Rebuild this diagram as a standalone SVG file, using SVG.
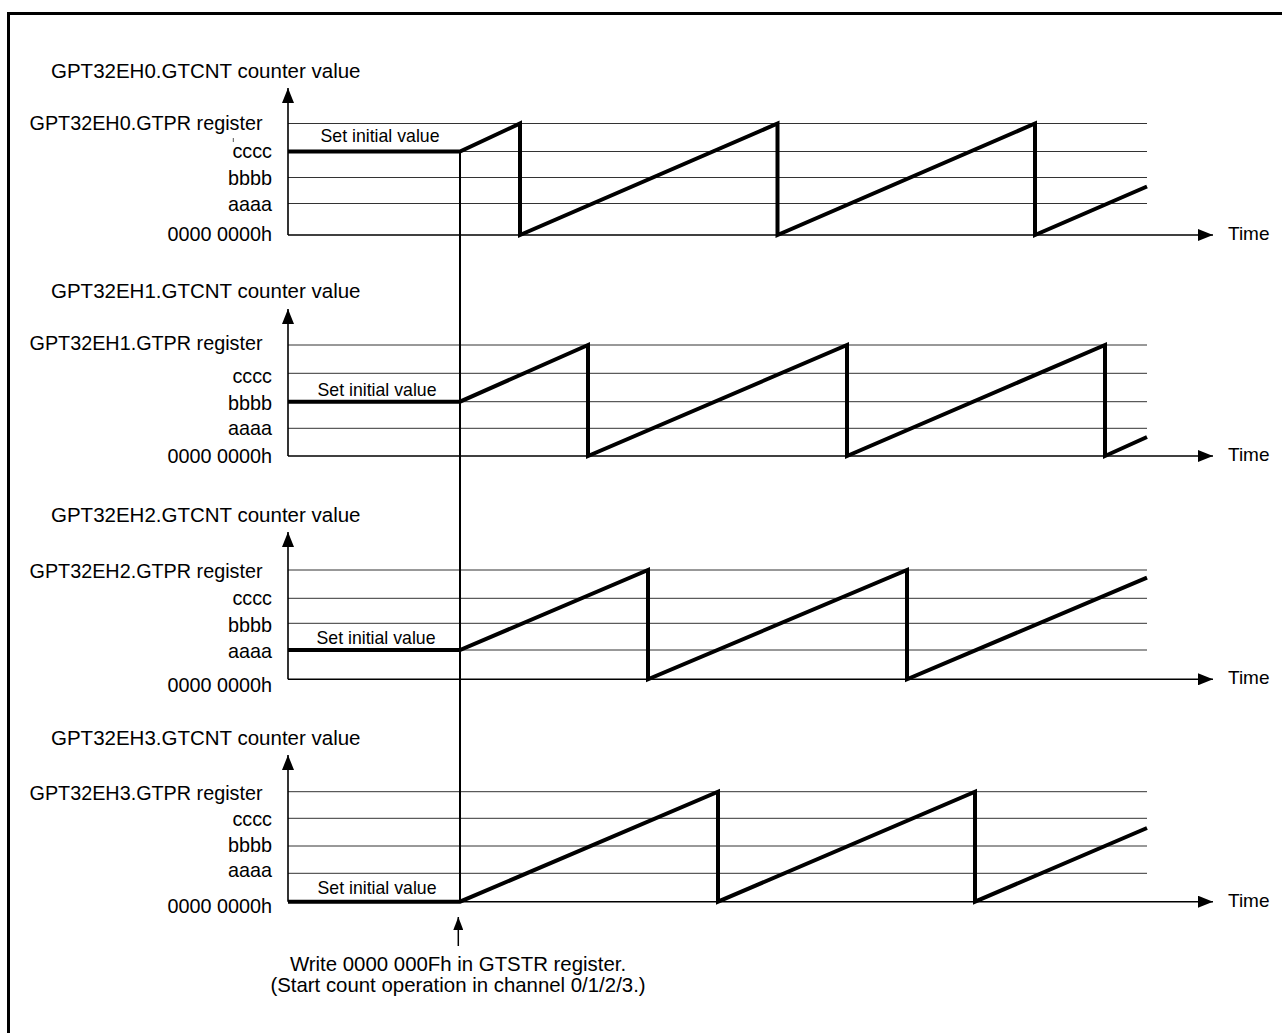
<svg xmlns="http://www.w3.org/2000/svg" width="1282" height="1033" viewBox="0 0 1282 1033">
<style>
text{font-family:"Liberation Sans",Arial,sans-serif;fill:#000}
.title{font-size:20.5px}
.lbl{font-size:19.8px}
.val{font-size:19.8px;text-anchor:end}
.time{font-size:19px}
.siv{font-size:17.7px;text-anchor:middle}
.note{font-size:20.4px;text-anchor:middle}
.grid{stroke:#333;stroke-width:1;fill:none}
.axis{stroke:#000;stroke-width:1.6;fill:none}
.wave{stroke:#000;stroke-width:4;fill:none;stroke-linejoin:miter}
.start{stroke:#000;stroke-width:2;fill:none}
</style>
<defs>
<marker id="ahUp" markerUnits="userSpaceOnUse" viewBox="0 0 15 12" refX="15" refY="6" markerWidth="15" markerHeight="12" orient="auto">
<path d="M0,0 L15,6 L0,12 Z" fill="#000"/>
</marker>
<marker id="ahSmall" markerUnits="userSpaceOnUse" viewBox="0 0 13 10" refX="13" refY="5" markerWidth="13" markerHeight="10" orient="auto">
<path d="M0,0 L13,5 L0,10 Z" fill="#000"/>
</marker>
</defs>
<rect x="0" y="0" width="1282" height="1033" fill="#fff"/>
<path d="M8.5,1033 L8.5,13.5 L1282,13.5" stroke="#000" stroke-width="3" fill="none"/>

<g id="panel0">
<text class="title" x="51" y="77.5">GPT32EH0.GTCNT counter value</text>
<text class="lbl" x="29.5" y="130">GPT32EH0.GTPR register</text>
<text class="val" x="272" y="158.3">cccc</text>
<text class="val" x="272" y="185">bbbb</text>
<text class="val" x="272" y="210.7">aaaa</text>
<text class="val" x="272" y="240.7">0000 0000h</text>
<line x1="233.3" y1="138" x2="233.3" y2="142" stroke="#555" stroke-width="1"/>
<path class="grid" d="M288,123.5H1147M288,151.5H1147M288,177.5H1147M288,203.5H1147"/>
<line class="axis" x1="288" y1="235" x2="288" y2="88" marker-end="url(#ahUp)"/>
<line class="axis" x1="288" y1="235" x2="1213" y2="235" marker-end="url(#ahUp)"/>
<text class="time" x="1228" y="240">Time</text>
<text class="siv" x="380" y="141.5">Set initial value</text>
<polyline class="wave" points="288,151.5 460,151.5 520,123.5 520,235 777.5,123.5 777.5,235 1035,123.5 1035,235 1147,186.5"/>
</g>

<g id="panel1">
<text class="title" x="51" y="298.3">GPT32EH1.GTCNT counter value</text>
<text class="lbl" x="29.5" y="350">GPT32EH1.GTPR register</text>
<text class="val" x="272" y="383.3">cccc</text>
<text class="val" x="272" y="410">bbbb</text>
<text class="val" x="272" y="435">aaaa</text>
<text class="val" x="272" y="463.3">0000 0000h</text>
<path class="grid" d="M288,345H1147M288,373.3H1147M288,401.7H1147M288,428.3H1147"/>
<line class="axis" x1="288" y1="456" x2="288" y2="309" marker-end="url(#ahUp)"/>
<line class="axis" x1="288" y1="456" x2="1213" y2="456" marker-end="url(#ahUp)"/>
<text class="time" x="1228" y="461">Time</text>
<text class="siv" x="377" y="396">Set initial value</text>
<polyline class="wave" points="288,401.7 460,401.7 588,345 588,456 847,345 847,456 1105,345 1105,456 1147,437"/>
</g>

<g id="panel2">
<text class="title" x="51" y="521.5">GPT32EH2.GTCNT counter value</text>
<text class="lbl" x="29.5" y="578">GPT32EH2.GTPR register</text>
<text class="val" x="272" y="605">cccc</text>
<text class="val" x="272" y="631.7">bbbb</text>
<text class="val" x="272" y="658.3">aaaa</text>
<text class="val" x="272" y="691.7">0000 0000h</text>
<path class="grid" d="M288,570H1147M288,598.3H1147M288,623.3H1147M288,650H1147"/>
<line class="axis" x1="288" y1="679.3" x2="288" y2="532" marker-end="url(#ahUp)"/>
<line class="axis" x1="288" y1="679.3" x2="1213" y2="679.3" marker-end="url(#ahUp)"/>
<text class="time" x="1228" y="684">Time</text>
<text class="siv" x="376" y="644">Set initial value</text>
<polyline class="wave" points="288,650 460,650 648,570 648,679.3 907,570 907,679.3 1147,577.6"/>
</g>

<g id="panel3">
<text class="title" x="51" y="745">GPT32EH3.GTCNT counter value</text>
<text class="lbl" x="29.5" y="800">GPT32EH3.GTPR register</text>
<text class="val" x="272" y="826">cccc</text>
<text class="val" x="272" y="851.7">bbbb</text>
<text class="val" x="272" y="877.3">aaaa</text>
<text class="val" x="272" y="913.3">0000 0000h</text>
<path class="grid" d="M288,791.7H1147M288,818.3H1147M288,846H1147M288,873.3H1147"/>
<line class="axis" x1="288" y1="901.7" x2="288" y2="755" marker-end="url(#ahUp)"/>
<line class="axis" x1="288" y1="901.7" x2="1213" y2="901.7" marker-end="url(#ahUp)"/>
<text class="time" x="1228" y="907">Time</text>
<text class="siv" x="377" y="894">Set initial value</text>
<polyline class="wave" points="288,901.7 460,901.7 718,791.7 718,901.7 975,791.7 975,901.7 1147,828"/>
</g>

<g id="connectors">
<line class="start" x1="460" y1="151.5" x2="460" y2="901.7"/>
<line x1="458.3" y1="946" x2="458.3" y2="917" stroke="#000" stroke-width="1.5" marker-end="url(#ahSmall)"/>
</g>

<g id="note">
<text class="note" x="458" y="971">Write 0000 000Fh in GTSTR register.</text>
<text class="note" x="458" y="991.7">(Start count operation in channel 0/1/2/3.)</text>
</g>
</svg>
